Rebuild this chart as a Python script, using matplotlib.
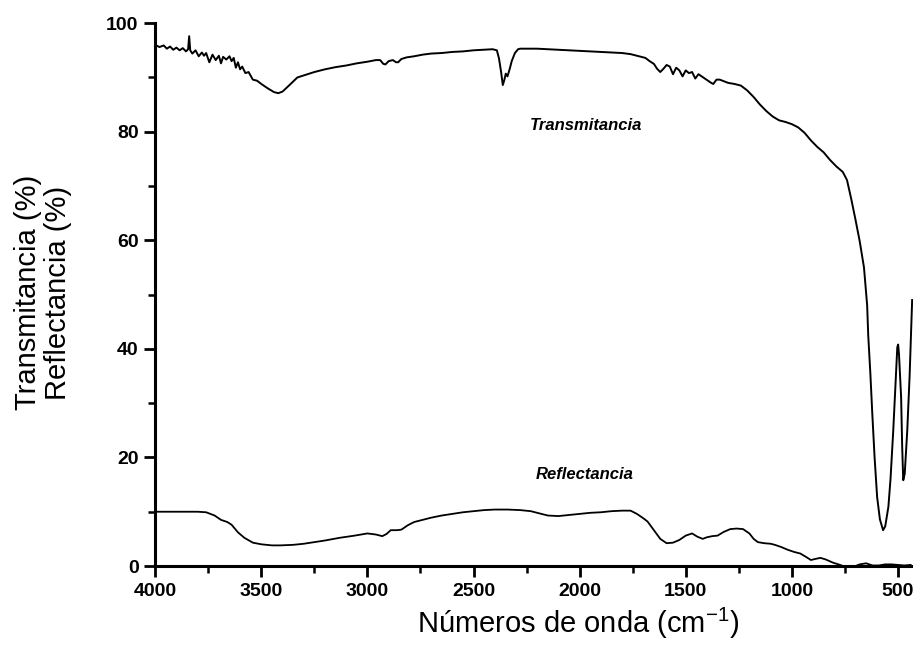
import matplotlib.pyplot as plt
from matplotlib.ticker import MultipleLocator

# FTIR spectrum: wavenumber (cm-1) vs transmittance / reflectance (%)
trans_wn = [4000, 3980, 3960, 3945, 3930, 3915, 3900, 3885, 3870, 3855,
            3845, 3840, 3835, 3825, 3810, 3795, 3780, 3770, 3760, 3745,
            3730, 3715, 3700, 3690, 3680, 3665, 3650, 3640, 3630, 3620,
            3610, 3600, 3590, 3575, 3560, 3540, 3520, 3500, 3470, 3440,
            3420, 3400, 3370, 3330, 3290, 3250, 3200, 3150, 3100, 3050,
            3000, 2960, 2940, 2925, 2915, 2900, 2880, 2865, 2855, 2840,
            2815, 2780, 2740, 2700, 2650, 2600, 2550, 2500, 2450, 2410,
            2390, 2380, 2370, 2362, 2355, 2348, 2340, 2330, 2320, 2305,
            2290, 2280, 2250, 2200, 2150, 2100, 2050, 2000, 1950, 1900,
            1850, 1800, 1760, 1720, 1690, 1670, 1650, 1635, 1620, 1605,
            1590, 1575, 1560, 1545, 1530, 1515, 1500, 1485, 1470, 1455,
            1440, 1425, 1410, 1395, 1380, 1370, 1355, 1340, 1320, 1300,
            1270, 1240, 1210, 1180, 1150, 1120, 1090, 1060, 1030, 1000,
            970, 940, 910, 880, 850, 820, 790, 760, 740, 720,
            700, 680, 660, 645, 640, 630, 621, 610, 598, 585,
            570, 560, 545, 535, 522, 512, 503, 499, 495, 485,
            480, 475, 468, 456, 445, 433]
trans_pct = [96.0, 95.6, 95.9, 95.3, 95.7, 95.1, 95.5, 95.0, 95.4, 94.8,
             95.2, 97.6, 95.0, 94.4, 95.0, 93.9, 94.6, 94.0, 94.5, 92.8,
             94.2, 93.2, 94.0, 92.6, 93.8, 93.3, 93.9, 93.0, 93.6, 91.8,
             92.8, 91.5, 92.0, 90.8, 91.0, 89.6, 89.4, 88.8, 88.0, 87.3,
             87.1, 87.4, 88.5, 90.0, 90.5, 91.0, 91.5, 91.9, 92.2, 92.6,
             92.9, 93.2, 93.2, 92.5, 92.4, 93.0, 93.2, 92.8, 92.8, 93.4,
             93.7, 93.9, 94.2, 94.4, 94.5, 94.7, 94.8, 95.0, 95.1, 95.2,
             95.0, 93.5, 91.0, 88.6, 89.5, 90.7, 90.2, 91.5, 93.0, 94.5,
             95.2, 95.3, 95.3, 95.3, 95.2, 95.1, 95.0, 94.9, 94.8, 94.7,
             94.6, 94.5, 94.3, 93.9, 93.6, 93.0, 92.5, 91.6, 91.0, 91.6,
             92.3, 92.0, 90.6, 91.8, 91.3, 90.2, 91.3, 90.8, 91.0, 89.8,
             90.6, 90.2, 89.8, 89.4, 89.0, 88.8, 89.6, 89.6, 89.3, 89.0,
             88.8, 88.5, 87.6, 86.4, 85.0, 83.8, 82.8, 82.1, 81.8, 81.4,
             80.8, 79.8, 78.4, 77.2, 76.2, 74.8, 73.6, 72.6, 71.1, 67.6,
             63.8, 59.8, 55.0, 48.0, 42.5, 35.5, 28.2, 20.0, 12.7, 8.6,
             6.6, 7.3, 10.9, 16.0, 25.0, 33.0, 40.3, 40.8, 39.0, 31.1,
             22.0, 15.8, 17.0, 25.0, 35.0, 49.0]

refl_wn = [4000, 3900, 3800, 3760, 3720, 3690, 3660, 3640, 3610, 3580,
           3540, 3500, 3450, 3410, 3350, 3300, 3250, 3200, 3130, 3060,
           3000, 2960, 2930, 2910, 2890, 2860, 2840, 2810, 2780, 2740,
           2700, 2650, 2600, 2550, 2500, 2450, 2400, 2340, 2280, 2230,
           2180, 2150, 2100, 2050, 2000, 1950, 1900, 1850, 1800, 1760,
           1730, 1700, 1680, 1650, 1620, 1590, 1560, 1530, 1500, 1470,
           1445, 1420, 1400, 1375, 1350, 1320, 1290, 1260, 1230, 1200,
           1180, 1160, 1130, 1100, 1080, 1050, 1020, 990, 960, 930,
           910, 890, 865, 840, 805, 780, 758, 730, 700, 680,
           650, 620, 590, 560, 530, 500, 470, 440]
refl_pct = [10.0, 10.0, 10.0, 9.9, 9.3, 8.5, 8.1, 7.6, 6.2, 5.2,
            4.3, 4.0, 3.8, 3.8, 3.9, 4.1, 4.4, 4.7, 5.2, 5.6,
            6.0, 5.8, 5.5, 5.9, 6.6, 6.6, 6.7, 7.5, 8.1, 8.5,
            8.9, 9.3, 9.6, 9.9, 10.1, 10.3, 10.4, 10.4, 10.3, 10.1,
            9.6, 9.3, 9.2, 9.4, 9.6, 9.8, 9.9, 10.1, 10.2, 10.2,
            9.6, 8.8, 8.2, 6.6, 5.0, 4.2, 4.3, 4.8, 5.6, 6.0,
            5.4, 5.0, 5.3, 5.5, 5.6, 6.3, 6.8, 6.9, 6.8, 6.0,
            5.0, 4.4, 4.2, 4.1, 3.9, 3.5, 3.0, 2.6, 2.3, 1.6,
            1.1, 1.3, 1.5, 1.2, 0.6, 0.3, 0.0, -0.1, 0.0, 0.3,
            0.5, 0.1, 0.1, 0.3, 0.3, 0.2, 0.1, 0.2]

plt.rcParams['font.family'] = ['Liberation Sans', 'DejaVu Sans']

fig = plt.figure(figsize=(9.13, 6.62), dpi=100)
ax = fig.add_axes([0.170, 0.145, 0.830, 0.820])

ax.plot(trans_wn, trans_pct, color='black', lw=1.4)
ax.plot(refl_wn, refl_pct, color='black', lw=1.3)

ax.set_xlim(4000, 429)
ax.set_ylim(0, 100)

ax.xaxis.set_major_locator(MultipleLocator(500))
ax.xaxis.set_minor_locator(MultipleLocator(250))
ax.yaxis.set_major_locator(MultipleLocator(20))
ax.yaxis.set_minor_locator(MultipleLocator(10))

for side in ['top', 'right']:
    ax.spines[side].set_visible(False)
for side in ['left', 'bottom']:
    ax.spines[side].set_linewidth(2.2)

ax.tick_params(which='major', direction='out', length=8, width=2, labelsize=14, pad=4)
ax.tick_params(which='minor', direction='out', length=5, width=1.8)
for lbl in ax.get_xticklabels() + ax.get_yticklabels():
    lbl.set_fontweight('bold')

ax.text(2233, 81.2, 'Transmitancia', fontsize=12, style='italic', fontweight='bold',
        ha='left', va='center')
ax.text(2209, 16.9, 'Reflectancia', fontsize=12, style='italic', fontweight='bold',
        ha='left', va='center')

fig.text(0.633, 0.058, r'Números de onda (cm$^{\mathregular{-1}}$)', fontsize=21,
         ha='center', va='center')
fig.text(0.047, 0.558, 'Transmitancia (%)\nReflectancia (%)', fontsize=21,
         rotation=90, ha='center', va='center', multialignment='center',
         linespacing=1.12)

fig.savefig('out.png', dpi=100)
